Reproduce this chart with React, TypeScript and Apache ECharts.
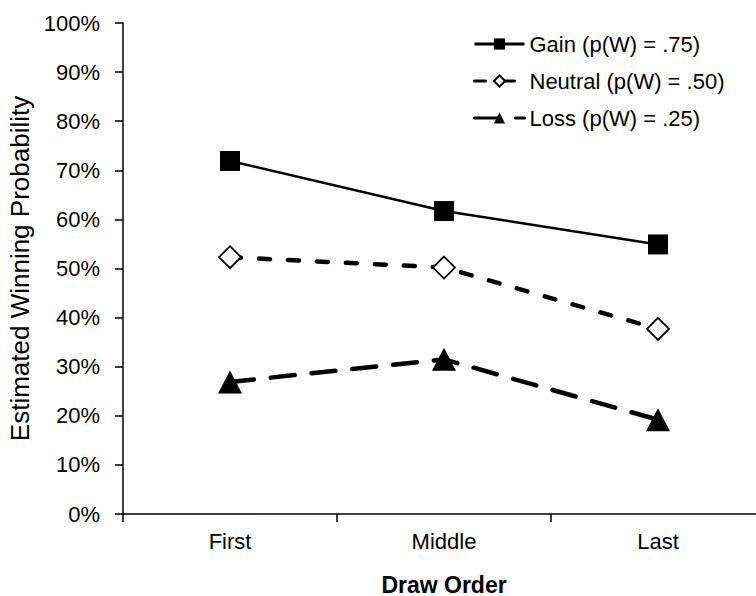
import React, { useEffect, useRef } from "react";
import * as echarts from "echarts";

const categories = ["First", "Middle", "Last"];
const gainValues = [71.9, 61.7, 54.9];
const neutralValues = [52.3, 50.2, 37.7];
const lossValues = [26.9, 31.5, 19.2];
const seriesNames = ["Gain (p(W) = .75)", "Neutral (p(W) = .50)", "Loss (p(W) = .25)"];
const yTicks = [0, 10, 20, 30, 40, 50, 60, 70, 80, 90, 100];

const FONT = "'Liberation Sans', Arial, sans-serif";

export default function App() {
  const ref = useRef<HTMLDivElement>(null);
  useEffect(() => {
    if (!ref.current) return;
    const chart = echarts.init(ref.current, undefined, { renderer: "svg" });
    chart.setOption({
      animation: false,
      backgroundColor: "#fff",
      textStyle: { fontFamily: FONT, color: "#000" },
      grid: { left: 123, top: 23, width: 642, height: 491, containLabel: false, outerBoundsMode: "none" },
      legend: {
        orient: "vertical",
        left: 473,
        top: 33,
        padding: 0,
        itemWidth: 50,
        itemHeight: 14,
        itemGap: 15,
        lineStyle: { width: 3 },
        textStyle: { fontFamily: FONT, fontSize: 22, lineHeight: 22, color: "#000" },
        data: seriesNames,
      },
      xAxis: {
        type: "category",
        data: categories,
        boundaryGap: true,
        name: "Draw Order",
        nameLocation: "middle",
        nameGap: 59,
        nameTextStyle: { fontFamily: FONT, fontSize: 23, fontWeight: "bold", color: "#000" },
        axisLine: { lineStyle: { color: "#000", width: 1.5 } },
        axisTick: { show: true, length: 8, inside: false, alignWithLabel: false, lineStyle: { color: "#000", width: 1.5 } },
        axisLabel: { fontFamily: FONT, fontSize: 22, color: "#000", margin: 16 },
        splitLine: { show: false },
      },
      yAxis: {
        type: "value",
        min: yTicks[0],
        max: yTicks[yTicks.length - 1],
        interval: 10,
        name: "Estimated Winning Probability",
        nameLocation: "middle",
        nameGap: 88,
        nameRotate: 90,
        nameTextStyle: { fontFamily: FONT, fontSize: 26, color: "#000" },
        axisLine: { show: true, lineStyle: { color: "#000", width: 1.5 } },
        axisTick: { show: true, length: 8, inside: false, lineStyle: { color: "#000", width: 1.5 } },
        axisLabel: { fontFamily: FONT, fontSize: 22, color: "#000", margin: 23, formatter: (v: number) => v + "%" },
        splitLine: { show: false },
      },
      series: [
        {
          name: seriesNames[0],
          type: "line",
          data: gainValues,
          symbol: "rect",
          symbolSize: 20,
          itemStyle: { color: "#000" },
          lineStyle: { color: "#000", width: 2.5, type: "solid" },
          z: 3,
        },
        {
          name: seriesNames[1],
          type: "line",
          data: neutralValues,
          symbol: "diamond",
          symbolSize: 22,
          itemStyle: { color: "#fff", borderColor: "#000", borderWidth: 1.8 },
          lineStyle: { color: "#000", width: 4.5, type: [11, 18], cap: "round" },
          z: 3,
        },
        {
          name: seriesNames[2],
          type: "line",
          data: lossValues,
          symbol: "triangle",
          symbolSize: [24, 23],
          itemStyle: { color: "#000" },
          lineStyle: { color: "#000", width: 4.5, type: [24, 17], cap: "round" },
          z: 3,
        },
      ],
    });
    return () => chart.dispose();
  }, []);
  return <div ref={ref} style={{ width: 756, height: 596, position: "absolute", left: 0, top: 0 }} />;
}
